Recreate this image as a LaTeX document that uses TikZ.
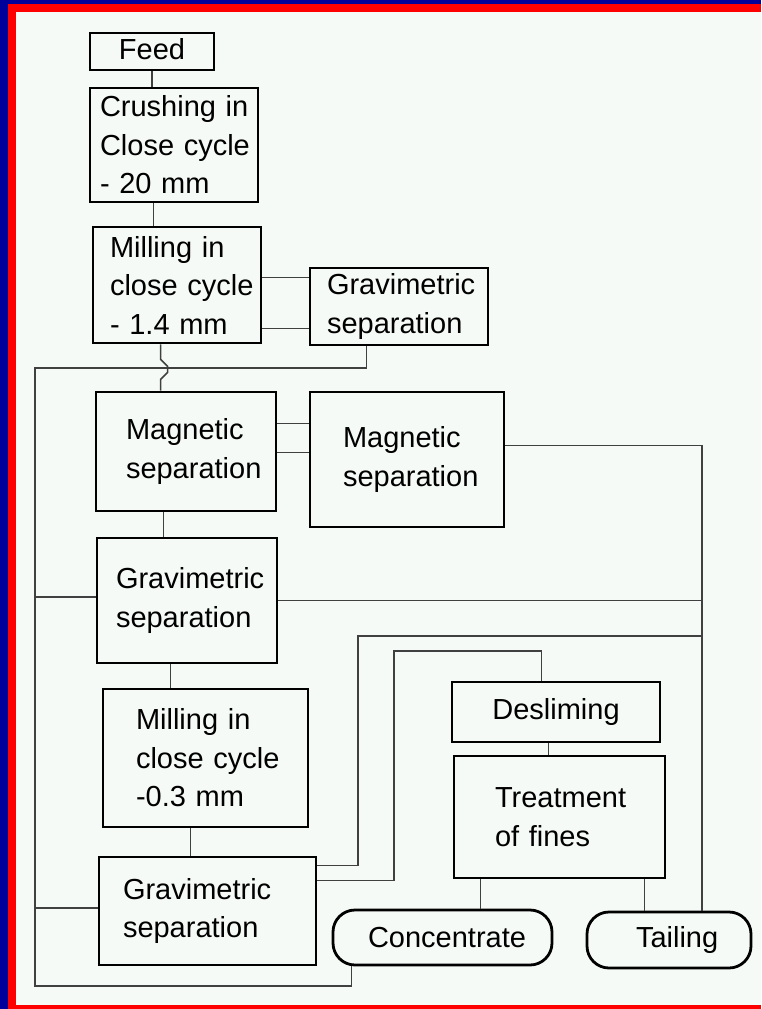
\documentclass[tikz,border=0pt]{standalone}
\usepackage{fontspec}
\setmainfont{Liberation Sans}
\usetikzlibrary{calc, positioning}

\definecolor{frameblue}{RGB}{0,0,155}
\definecolor{paper}{RGB}{246,250,246}

\begin{document}
\begin{tikzpicture}[x=1pt, y=-1pt,
    box/.style={draw=black, line width=2.8pt, fill=paper,
        font=\fontsize{29}{38.5}\selectfont},
    unit/.style={box, align=left, inner ysep=2pt},
    terminal/.style={unit, rounded corners=22pt},
    link/.style={draw=black!75, line width=1.6pt}]
\useasboundingbox (0,0) rectangle (761,1009);

% frame
\fill[frameblue] (0,0) rectangle (761,1009);
\fill[red] (8,4) rectangle (761,1009);
\fill[paper] (16,12) rectangle (761,1005);

% first stages
\node[box, minimum width=124pt, minimum height=37pt, inner ysep=0pt, text height=20pt, text depth=5pt] (feed) at (152,51.5) {Feed};
\node[unit, minimum width=168pt, minimum height=114pt, text width=148pt, inner xsep=10pt] (crush) at (174,145) {\mbox{Crushing in}\\\mbox{Close cycle}\\\mbox{- 20 mm}};
\node[unit, minimum width=168pt, minimum height=116pt, text width=134pt, inner xsep=17pt] (mill1) at (177,285) {\mbox{Milling in}\\\mbox{close cycle}\\\mbox{- 1.4 mm}};
\node[unit, minimum width=178pt, minimum height=77pt, text width=144pt, inner xsep=17pt] (grav1) at (399,306.5) {\mbox{Gravimetric}\\\mbox{separation}};

% magnetic stages
\node[unit, minimum width=180pt, minimum height=119pt, text width=120pt, inner xsep=30pt] (mag1) at (186,451.5) {\mbox{Magnetic}\\\mbox{separation}};
\node[unit, minimum width=194pt, minimum height=135pt, text width=128pt, inner xsep=33pt] (mag2) at (407,459.5) {\mbox{Magnetic}\\\mbox{separation}};

% gravimetric and fine milling
\node[unit, minimum width=180pt, minimum height=125pt, text width=142pt, inner xsep=19pt] (grav2) at (187,600.5) {\mbox{Gravimetric}\\\mbox{separation}};
\node[unit, minimum width=205pt, minimum height=138pt, text width=139pt, inner xsep=33pt] (mill3) at (205.5,758) {\mbox{Milling in}\\\mbox{close cycle}\\\mbox{-0.3 mm}};
\node[unit, minimum width=217pt, minimum height=108pt, text width=169pt, inner xsep=24pt] (grav3) at (207.5,911) {\mbox{Gravimetric}\\\mbox{separation}};

% fines
\node[box, minimum width=208pt, minimum height=60pt, text height=21pt, text depth=6pt] (desl) at (556,712) {Desliming};
\node[unit, minimum width=211pt, minimum height=122pt, text width=129pt, inner xsep=41pt] (treat) at (559.5,817) {\mbox{Treatment}\\\mbox{of fines}};

% products
\node[terminal, minimum width=219pt, minimum height=55pt, text width=149pt, inner xsep=35pt] (conc) at (442.5,937.5) {\mbox{Concentrate}};
\node[terminal, minimum width=164pt, minimum height=56pt, text width=66pt, inner xsep=49pt] (tail) at (669,940) {\mbox{Tailing}};

% corner points of the return lines
\coordinate (ret) at (35,368);
\coordinate (rgt) at (702,447);
\coordinate (loopA) at (358,636);
\coordinate (loopB) at (394,651);

% main line
\draw[link] (feed.south) -- (feed.south |- crush.north);
\draw[link] ([xshift=65pt]crush.south west) -- ([xshift=62pt]mill1.north west);
\draw[link] ([yshift=-52pt]mill1.north east) -- ([yshift=-52pt]mill1.north east -| grav1.west);
\draw[link] ([yshift=16pt]mill1.south east) -- ([yshift=16pt]mill1.south east -| grav1.west);
\draw[link] ([xshift=69pt]mill1.south west) -- ++(0,15) -- ++(7,7) -- ++(0,6) -- ++(-7,7) -- ([xshift=66pt]mag1.north west);
\draw[link] ([yshift=-33pt]mag1.north east) -- ([yshift=-33pt]mag1.north east -| mag2.west);
\draw[link] ([yshift=-62pt]mag1.north east) -- ([yshift=-62pt]mag1.north east -| mag2.west);
\draw[link] ([xshift=69pt]mag1.south west) -- ([xshift=69pt]mag1.south west |- grav2.north);
\draw[link] ([xshift=75pt]grav2.south west) -- ([xshift=75pt]grav2.south west |- mill3.north);
\draw[link] ([xshift=89pt]mill3.south west) -- ([xshift=89pt]mill3.south west |- grav3.north);

% return to concentrate
\draw[link] ([xshift=58pt]grav1.south west) |- (ret) -- (35,986) -| ([xshift=20pt]conc.south west);
\draw[link] ([yshift=3.5pt]grav2.west) -- ([yshift=3.5pt]grav2.west -| ret);
\draw[link] ([yshift=3pt]grav3.west) -- ([yshift=3pt]grav3.west -| ret);

% to tailing
\draw[link] ([yshift=-55pt]mag2.north east) -| (rgt |- tail.north);
\draw[link] (grav2.east) -- (grav2.east -| rgt);
\draw[link] ([yshift=-10pt]grav3.north east) -| (loopA) -- (loopA -| rgt);

% to desliming
\draw[link] ([yshift=-25pt]grav3.north east) -| (loopB) -| ([xshift=91pt]desl.north west);
\draw[link] ([xshift=98pt]desl.south west) -- ([xshift=98pt]desl.south west |- treat.north);
\draw[link] ([xshift=28pt]treat.south west) -- ([xshift=28pt]treat.south west |- conc.north);
\draw[link] ([xshift=192pt]treat.south west) -- ([xshift=192pt]treat.south west |- tail.north);
\end{tikzpicture}
\end{document}
